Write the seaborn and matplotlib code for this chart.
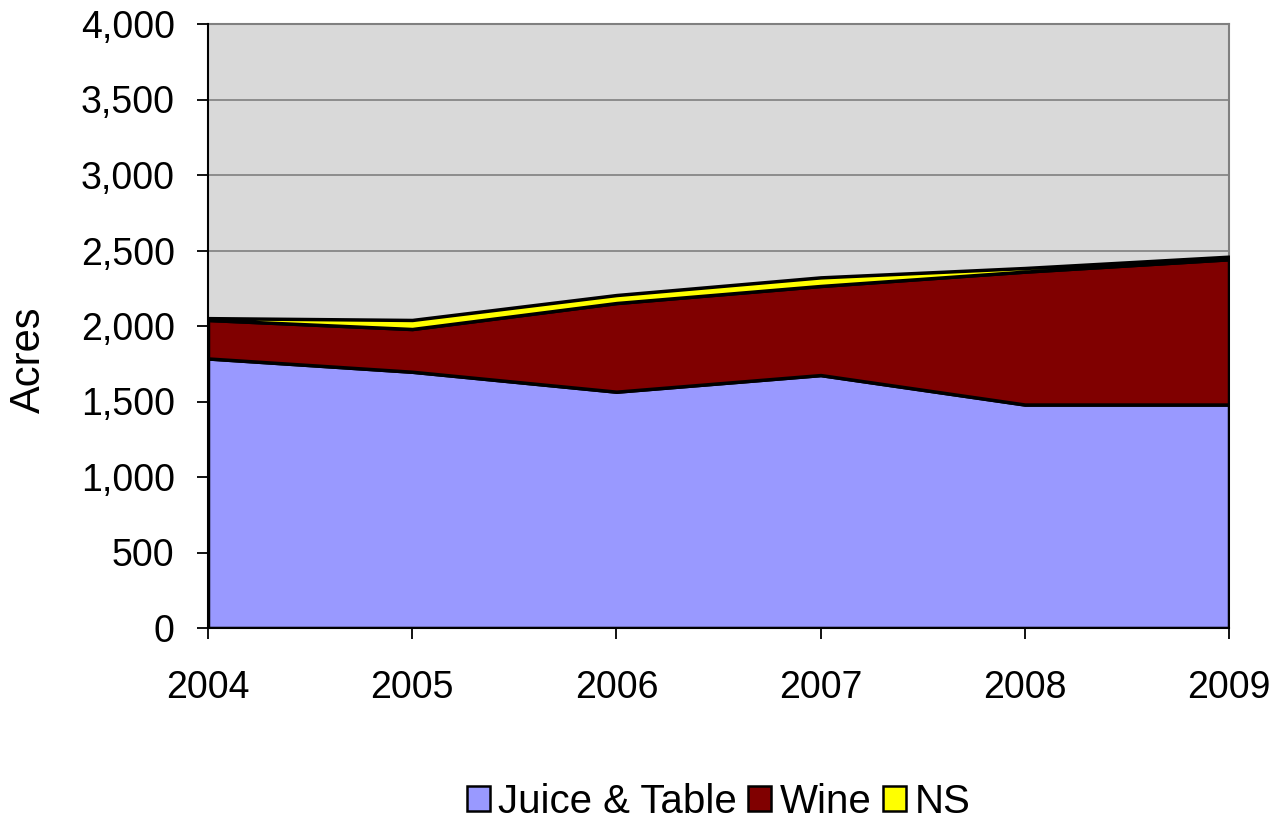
import matplotlib
matplotlib.use("Agg")
import matplotlib.pyplot as plt
import seaborn as sns
import numpy as np
from matplotlib.patches import Patch
from matplotlib.ticker import FuncFormatter, MultipleLocator

years = [2004, 2005, 2006, 2007, 2008, 2009]
juice_table = [1785, 1697, 1565, 1675, 1480, 1480]
wine = [255, 283, 587, 590, 880, 962]
ns = [12, 60, 53, 57, 24, 17]
series_names = ["Juice & Table", "Wine", "NS"]
colors = ["#9999FF", "#800000", "#FFFF00"]

sns.set_theme(style="white")
plt.rcParams["font.family"] = ["Liberation Sans", "DejaVu Sans"]
plt.rcParams["text.color"] = "black"
plt.rcParams["axes.labelcolor"] = "black"
plt.rcParams["xtick.color"] = "black"
plt.rcParams["ytick.color"] = "black"

fig = plt.figure(figsize=(12.76, 8.24), dpi=100)
ax = fig.add_axes([208/1276, 1-628/824, (1229-208)/1276, (628-24)/824])
ax.set_facecolor("#D9D9D9")

ax.stackplot(years, juice_table, wine, ns, colors=colors,
             edgecolor="black", linewidth=2.5, zorder=3)

ax.set_xlim(2004, 2009)
ax.set_ylim(0, 4000)
ax.yaxis.set_major_locator(MultipleLocator(500))
ax.yaxis.set_major_formatter(FuncFormatter(lambda v, p: f"{int(v):,}"))
ax.set_xticks(years)
ax.grid(axis="y", color="#808080", linewidth=1.2, zorder=1)
ax.set_axisbelow(True)

for s in ["top", "right"]:
    ax.spines[s].set_color("#808080")
    ax.spines[s].set_linewidth(1.5)
for s in ["left", "bottom"]:
    ax.spines[s].set_color("black")
    ax.spines[s].set_linewidth(1.5)
    ax.spines[s].set_zorder(5)

ax.tick_params(axis="both", which="major", labelsize=27, direction="out",
               length=8, width=1.3, color="black", left=True, bottom=True,
               labelcolor="black")
ax.tick_params(axis="x", pad=22)
ax.tick_params(axis="y", pad=16)
fig.text(29/1276, 1-360/824, "Acres", rotation=90, ha="center", va="center",
         fontsize=30, color="black")

handles = [Patch(facecolor=c, edgecolor="black", linewidth=1.8) for c in colors]
fig.legend(handles, series_names, loc="center", bbox_to_anchor=(0.563, 0.027),
           ncol=3, frameon=False, fontsize=29, handlelength=0.57, handleheight=0.57,
           handletextpad=0.2, columnspacing=0.3, labelcolor="black",
           borderpad=0.1)

fig.savefig("out.png", dpi=100)
